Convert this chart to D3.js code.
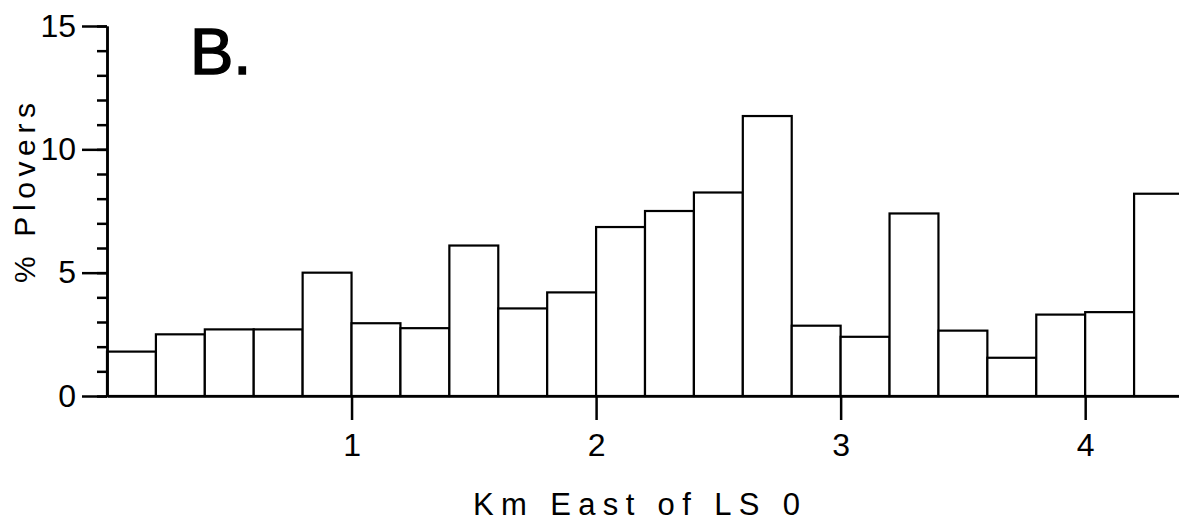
<!DOCTYPE html>
<html>
<head>
<meta charset="utf-8">
<script src="https://cdn.jsdelivr.net/npm/d3@7"></script>
<style>
    html, body { margin: 0; padding: 0; background: #fff; }
    svg { display: block; }
    text { font-family: "Liberation Sans", Arial, sans-serif; fill: #000; }
</style>
</head>
<body>
<div id="chart"></div>
<script>
// Histogram bins: start of each 0.2 km bin
const binStarts = [0.0, 0.2, 0.4, 0.6, 0.8, 1.0, 1.2, 1.4, 1.6, 1.8, 2.0,
                   2.2, 2.4, 2.6, 2.8, 3.0, 3.2, 3.4, 3.6, 3.8, 4.0, 4.2];
const binWidth = 0.2;
// % plovers in each bin
const plovers = [1.8, 2.5, 2.7, 2.7, 5.0, 2.95, 2.75, 6.1, 3.55, 4.2, 6.85,
                 7.5, 8.25, 11.35, 2.85, 2.4, 7.4, 2.65, 1.55, 3.3, 3.4, 8.2];
const xTicks = [1, 2, 3, 4];
const yTicks = [0, 5, 10, 15];
const yMinorTicks = d3.range(0, 16);

const width = 1179, height = 522;

const svg = d3.select('#chart')
    .append('svg')
    .attr('width', width)
    .attr('height', height);

// Scales
const x = d3.scaleLinear().domain([0, 4.4]).range([107, 1183]);
const y = d3.scaleLinear().domain([0, 15]).range([396, 26]);

// Bars
svg.append('g')
    .selectAll('rect')
    .data(plovers)
    .enter()
    .append('rect')
    .attr('x', (d, i) => x(binStarts[i]))
    .attr('y', d => y(d))
    .attr('width', (d, i) => x(binStarts[i] + binWidth) - x(binStarts[i]))
    .attr('height', d => y(0) - y(d))
    .attr('fill', '#fff')
    .attr('stroke', '#000')
    .attr('stroke-width', 2.2);

// Y axis: minor ticks
svg.append('g')
    .attr('transform', `translate(${x(0)},0)`)
    .call(d3.axisLeft(y).tickValues(yMinorTicks).tickSize(10).tickSizeOuter(0).tickFormat(''))
    .call(g => g.selectAll('line, path').attr('stroke', '#000').attr('stroke-width', 2.5));

// Y axis: major ticks with labels
const yAxis = svg.append('g')
    .attr('transform', `translate(${x(0)},0)`)
    .call(d3.axisLeft(y).tickValues(yTicks).tickSize(25).tickSizeOuter(0).tickPadding(6)
        .tickFormat(d3.format('d')));
yAxis.selectAll('line, path').attr('stroke', '#000').attr('stroke-width', 2.5);
yAxis.selectAll('text')
    .style('font-family', '"Liberation Sans", Arial, sans-serif')
    .style('font-size', '32px')
    .attr('fill', '#000');

// X axis
const xAxis = svg.append('g')
    .attr('transform', `translate(0,${y(0)})`)
    .call(d3.axisBottom(x).tickValues(xTicks).tickSize(24).tickSizeOuter(0).tickPadding(13)
        .tickFormat(d3.format('d')));
xAxis.selectAll('line, path').attr('stroke', '#000').attr('stroke-width', 2.5);
xAxis.selectAll('text')
    .style('font-family', '"Liberation Sans", Arial, sans-serif')
    .style('font-size', '32px')
    .attr('fill', '#000');

// Axis titles
svg.append('text')
    .attr('x', 473)
    .attr('y', 515)
    .attr('textLength', 327)
    .attr('lengthAdjust', 'spacing')
    .style('font-size', '31px')
    .text('Km East of LS 0');

svg.append('text')
    .attr('transform', 'rotate(-90)')
    .attr('x', -283)
    .attr('y', 35)
    .attr('textLength', 180)
    .attr('lengthAdjust', 'spacing')
    .style('font-size', '30px')
    .text('% Plovers');

// Panel label
svg.append('text')
    .attr('x', 190)
    .attr('y', 74)
    .style('font-size', '65px')
    .attr('stroke', '#000')
    .attr('stroke-width', 1.5)
    .text('B.');
</script>
</body>
</html>
